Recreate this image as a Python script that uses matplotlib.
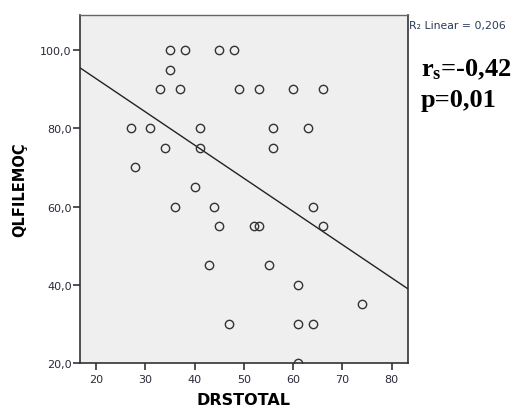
import numpy as np
import matplotlib
matplotlib.use("Agg")
import matplotlib.pyplot as plt
from matplotlib.ticker import FuncFormatter

drstotal = [35, 38, 45, 48, 35, 33, 37, 49, 53, 60, 66, 27, 31, 41, 56, 63, 34, 41, 56,
            28, 40, 36, 44, 64, 45, 52, 53, 66, 43, 55, 61, 74, 47, 61, 64, 61]
qlfilemoc = [100, 100, 100, 100, 95, 90, 90, 90, 90, 90, 90, 80, 80, 80, 80, 80, 75, 75, 75,
             70, 65, 60, 60, 60, 55, 55, 55, 55, 45, 45, 40, 35, 30, 30, 30, 20]
x_ticks = [20, 30, 40, 50, 60, 70, 80]
y_ticks = [20, 40, 60, 80, 100]

plt.rcParams['mathtext.fontset'] = 'custom'
plt.rcParams['mathtext.rm'] = 'Liberation Serif:bold'
plt.rcParams['mathtext.bf'] = 'Liberation Serif:bold'
plt.rcParams['mathtext.it'] = 'Liberation Serif:bold'

fig = plt.figure(figsize=(5.13, 4.10), dpi=100)
ax = fig.add_axes([80/513, 1-364/410, 328/513, 348/410])
ax.set_facecolor('#efefef')

xlim = (16.75, 83.3)
ylim = (20, 109)
ax.set_xlim(*xlim)
ax.set_ylim(*ylim)

x = np.array(drstotal, float)
y = np.array(qlfilemoc, float)
slope, intercept = np.polyfit(x, y, 1)
xs = np.array(xlim)
ax.plot(xs, slope*xs + intercept, color='#222222', lw=1.0, zorder=2)

ax.plot(x, y, linestyle='none', marker='o', markersize=6.0, markerfacecolor='none',
        markeredgecolor='#333333', markeredgewidth=1.0, zorder=3, clip_on=True)

ax.set_xticks(x_ticks)
ax.set_yticks(y_ticks)
ax.yaxis.set_major_formatter(FuncFormatter(lambda v, p: f"{v:.1f}".replace('.', ',')))
ax.tick_params(axis='both', direction='out', length=5, width=1.2, color='#333333',
               labelsize=8, labelcolor='#2a2a3a')
ax.tick_params(axis='x', pad=3)
ax.tick_params(axis='y', pad=1)

for s in ['left', 'bottom', 'right']:
    ax.spines[s].set_color('#333333')
    ax.spines[s].set_linewidth(1.2)
ax.spines['top'].set_color('#666666')
ax.spines['top'].set_linewidth(1.0)

ax.set_xlabel('DRSTOTAL', fontsize=11.5, fontweight='bold', labelpad=6)
ax.set_ylabel('QLFILEMOÇ', fontsize=10.5, fontweight='bold', labelpad=9)

fig.text(409/513, 1-26/410, 'R\u2082 Linear = 0,206',
         fontsize=7.8, color='#2a3a5a', va='center', ha='left', family='DejaVu Sans')
fig.text(421/513, 1-70/410, r'r$_{\rm s}$=-0,42', fontsize=19, fontweight='bold',
         family='Liberation Serif', va='center', ha='left')
fig.text(421/513, 1-100/410, 'p=0,01', fontsize=19, fontweight='bold',
         family='Liberation Serif', va='center', ha='left')

fig.savefig('out.png', dpi=100)
